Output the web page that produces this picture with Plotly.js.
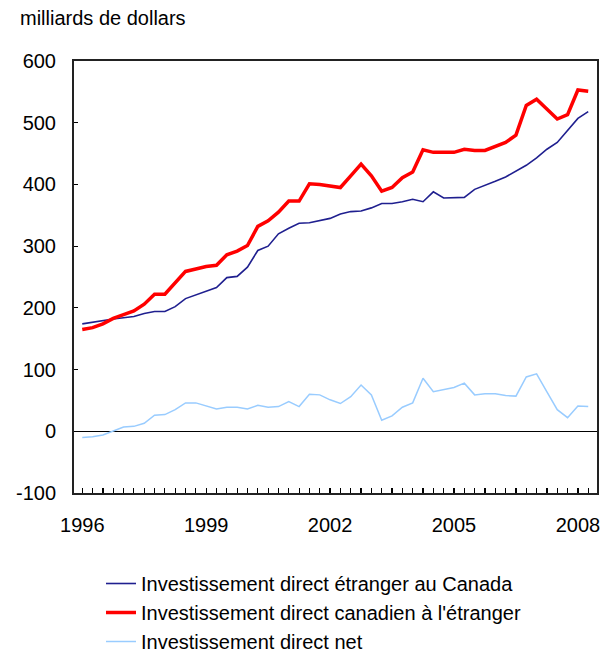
<!DOCTYPE html>
<html>
<head>
<meta charset="utf-8">
<script src="https://cdn.plot.ly/plotly-3.0.1.min.js"></script>
<style>
  html, body { margin: 0; padding: 0; background: #fff; }
  #chart { width: 613px; height: 654px; }
</style>
</head>
<body>
<div id="chart"></div>
<script>
// Quarterly categories, 1996 Q1 to 2008 Q2
var quarters = [
  "1996T1","1996T2","1996T3","1996T4",
  "1997T1","1997T2","1997T3","1997T4",
  "1998T1","1998T2","1998T3","1998T4",
  "1999T1","1999T2","1999T3","1999T4",
  "2000T1","2000T2","2000T3","2000T4",
  "2001T1","2001T2","2001T3","2001T4",
  "2002T1","2002T2","2002T3","2002T4",
  "2003T1","2003T2","2003T3","2003T4",
  "2004T1","2004T2","2004T3","2004T4",
  "2005T1","2005T2","2005T3","2005T4",
  "2006T1","2006T2","2006T3","2006T4",
  "2007T1","2007T2","2007T3","2007T4",
  "2008T1","2008T2"
];

// Labelled quarters on the x axis
var labelQuarters = ["1996T1","1999T1","2002T1","2005T1","2008T1"];
var labelText     = ["1996","1999","2002","2005","2008"];

// Foreign direct investment in Canada (billions of dollars)
var fdiCanada = [
  174,177,179,182, 184,186,191,194, 194,202,215,221,
  226,233,249,251, 266,293,300,320, 329,337,338,341,
  345,352,356,357, 362,369,369,372, 376,372,388,378,
  378,379,392,398, 405,412,421,431, 443,457,468,488,
  507,518
];

// Canadian direct investment abroad
var cdiAbroad = [
  165,168,174,183, 189,195,206,222, 222,240,259,263,
  267,269,286,292, 301,332,341,355, 373,373,401,400,
  397,395,414,433, 414,389,395,411, 420,456,452,452,
  452,457,455,455, 462,468,480,528, 538,522,506,513,
  553,551
];

// Net direct investment
var netDI = [
  -10,-9,-6,0, 7,8,13,26, 27,35,46,46,
  41,36,39,39, 36,42,39,40, 48,40,60,59,
  51,45,56,75, 59,18,25,39, 46,86,64,67,
  71,78,59,61, 61,58,57,88, 93,64,35,22,
  41,40
];

var seriesNames = [
  "Investissement direct étranger au Canada",
  "Investissement direct canadien à l'étranger",
  "Investissement direct net"
];

var yTicks = [-100, 0, 100, 200, 300, 400, 500, 600];

var tickText = quarters.map(function (q) {
  var k = labelQuarters.indexOf(q);
  return k >= 0 ? labelText[k] : "";
});

var FONT = "Liberation Sans, Arial, sans-serif";

var traces = [
  {
    x: quarters, y: netDI, type: "scatter", mode: "lines",
    name: seriesNames[2], legendrank: 3,
    line: { color: "#99ccff", width: 1.5 }
  },
  {
    x: quarters, y: fdiCanada, type: "scatter", mode: "lines",
    name: seriesNames[0], legendrank: 1,
    line: { color: "#1f1f8f", width: 1.6 }
  },
  {
    x: quarters, y: cdiAbroad, type: "scatter", mode: "lines",
    name: seriesNames[1], legendrank: 2,
    line: { color: "#ff0000", width: 3.5 }
  }
];

var layout = {
  width: 613, height: 654,
  paper_bgcolor: "#ffffff", plot_bgcolor: "#ffffff",
  margin: { l: 74, r: 16, t: 61, b: 161, pad: 0, autoexpand: false },
  font: { family: FONT, size: 20, color: "#000000" },
  title: {
    text: "milliards de dollars",
    xref: "container", yref: "container",
    x: 20 / 613, xanchor: "left",
    y: 1 - 18 / 654, yanchor: "middle",
    font: { family: FONT, size: 20, color: "#000000" }
  },
  showlegend: true,
  legend: {
    xref: "container", yref: "container",
    x: 101 / 613, xanchor: "left",
    y: 1 - 564 / 654, yanchor: "top",
    font: { family: FONT, size: 20, color: "#000000" },
    bgcolor: "rgba(0,0,0,0)",
    tracegroupgap: 0,
    traceorder: "normal"
  },
  xaxis: {
    type: "category",
    range: [-0.8, 49.85],
    tickmode: "array",
    tickvals: quarters,
    ticktext: tickText,
    ticks: "inside", ticklen: 5, tickwidth: 1.2, tickcolor: "#000000",
    ticklabelstandoff: 13,
    showline: true, linecolor: "#222222", linewidth: 2, mirror: true,
    showgrid: false, zeroline: false,
    tickfont: { family: FONT, size: 20, color: "#000000" },
    fixedrange: true
  },
  yaxis: {
    range: [-100, 600],
    tickmode: "array",
    tickvals: yTicks,
    ticktext: yTicks.map(String),
    ticks: "inside", ticklen: 4, tickwidth: 1.2, tickcolor: "#000000",
    ticklabelstandoff: 12,
    showline: true, linecolor: "#222222", linewidth: 2, mirror: true,
    showgrid: false,
    zeroline: true, zerolinecolor: "#000000", zerolinewidth: 1.5,
    tickfont: { family: FONT, size: 20, color: "#000000" },
    fixedrange: true
  }
};

Plotly.newPlot("chart", traces, layout, { staticPlot: true, displayModeBar: false });
</script>
</body>
</html>
